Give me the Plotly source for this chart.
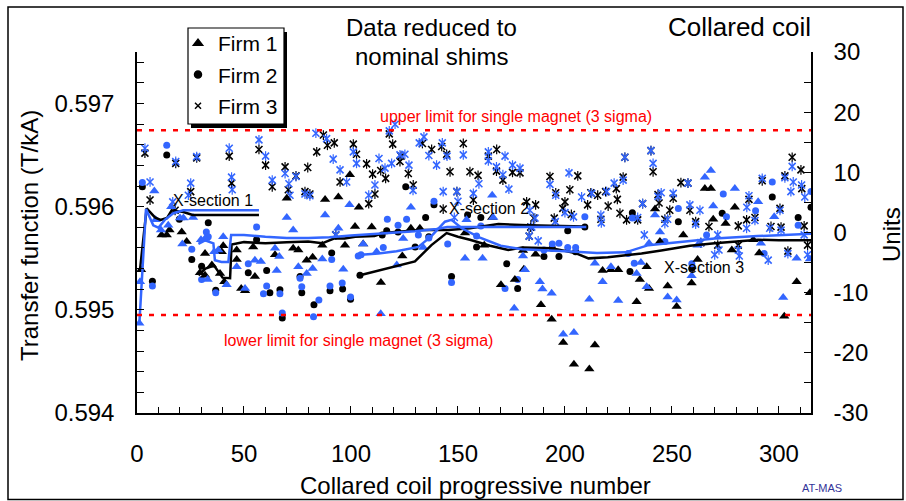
import plotly.graph_objects as go

# ---------------- data (x = collared coil number, y = units) ----------------
f1_black = [(1.9,-6.2),(11.5,-0.4),(13.9,-0.4),(15.2,0.4),(20.9,0.1),(23.2,-1.5),(29.4,-6.7),(31.8,-3.5),(31.8,-7.1),(35,-5.4),(38.8,-6.8),(39.6,-3.2),(40.3,-2.2),(40.8,-8.2),(46.6,-4.5),(46.6,-2.9),(48.7,-9.3),(50.5,-9.7),(54.3,-2.4),(55.1,-7.3),(64.5,-3.7),(70,5.7),(73,-2.6),(75.4,-2.9),(79.3,-4.6),(82.1,-4.1),(86.6,-2.1),(87.9,5.5),(94.1,5.9),(97.2,-2.1),(99.5,9.6),(101.9,1.0),(103.7,4.2),(105.7,-1.9),(109.7,0.9),(114,-8.3),(124,-3.9),(128,0.7),(132.2,0.7),(153.3,-0.1),(162.3,-2.1),(166,2.5),(170.1,-8.7),(176.6,-7.8),(180.4,-3.0),(180.8,-6.1),(186.3,-3.6),(188.8,-12.0),(193.8,-14.4),(199.2,-18.3),(204.2,-21.9),(211.4,-22.7),(214,-18.7),(217.6,-6.3),(221.5,-6.2),(224.9,-6.2),(233.5,-11.5),(235,-7.8),(238.2,-5.7),(239.3,-9.3),(242.1,3.9),(244.4,-1.5),(248,-8.9),(252.2,-12.3),(255.3,-0.4),(259.2,-8.4),(262,-4.5),(265.4,7.3),(268.2,7.3),(269.3,2.2),(275.1,1.5),(278,-2.9),(279.4,4.2),(288,-1.2),(290.8,-3.4),(302.5,-13.9),(308.3,-8.2),(314.5,-10.0)]
f1_blue = [(1.1,-15.1),(1.4,-8.2),(8.1,6.9),(8.7,2.1),(11.2,0.4),(14.6,1.2),(16,4.3),(20.1,2.4),(21.7,2.4),(21.2,-1.9),(26.2,2.5),(29.9,-1.2),(31.8,-1.0),(33,-7.8),(36.1,-3.2),(38,-2.9),(40.3,-0.7),(41.9,-8.7),(46.6,-5.7),(50.5,-9.3),(55.1,-4.6),(57.9,-4.8),(64.5,-2.6),(65.3,-6.3),(66.5,-4.0),(70,2.5),(73,0.4),(75.4,-5.7),(79.3,-6.8),(82.1,-6.0),(86.6,-4.4),(87.9,2.9),(94.1,0.7),(96.4,-6.1),(99.3,4.6),(105.7,-1.9),(112,-3.2),(113.9,-13.5),(121.4,-5.4),(124.4,-1.0),(128,4.2),(133.8,-2.5),(153.3,-4.3),(154,2.1),(161.5,-4.3),(166,6.2),(166.5,2.5),(176.3,-12.6),(180.4,-3.9),(181.3,-6.2),(188.3,-8.2),(189.5,-9.4),(193.8,-10.1),(199.2,-16.9),(204.2,-16.6),(211.4,-11.1),(214,-5.1),(217.6,-8.2),(221.5,-5.7),(224.9,-11.3),(233.5,-6.8),(235.5,-5.0),(238.2,-9.0),(239.3,-1.8),(242.1,2.9),(244.4,0.1),(248,-10.7),(252.2,-11.2),(259.2,-7.2),(262,-2.1),(265.4,9.2),(268.2,10.3),(269.3,4.4),(279.4,7.3),(290.3,5.1),(291.6,-1.8),(297.8,2.6),(302,-10.8),(308.3,-4.3),(314.5,-4.4)]
f2_black = [(2.5,7.6),(7.2,-8.1),(13.9,12.9),(19.8,2.2),(25.6,-4.5),(30.2,-5.6),(33.3,1.6),(36.8,-9.6),(52,-6.7),(55.9,-1.2),(60.6,-6.3),(62.1,-10.0),(66.8,-9.5),(67.9,-14.2),(76.2,-7.3),(77,-10.0),(82.7,-12.0),(90.2,-9.7),(91,-3.4),(96.1,-9.4),(99.8,-11.1),(104.2,-7.1),(114.6,-0.4),(116.7,0.3),(122,0.1),(125.6,7.6),(130,-2.4),(134.9,2.5),(136.4,-0.7),(138.8,4.6),(147,-7.3),(154.5,2.9),(158.7,-2.4),(160.7,2.5),(172.8,-5.2),(177.9,-9.3),(190.2,-4.0),(194.1,-2.6),(197.2,-4.0),(201.3,0.3),(205,-3.2),(209.3,0.9),(230.4,-6.5),(231.5,3.3),(253,1.8),(259.3,-6.0),(273.5,3.2),(296.9,5.9),(309,2.5),(315,4.2)]
f2_blue = [(2.5,8.3),(7.2,-8.9),(13.9,14.5),(25.6,-2.8),(30.2,-7.8),(32.4,0.1),(33.3,-0.7),(36.8,-10.0),(52,-5.2),(55.9,0.9),(59.1,-10.2),(60.6,-8.9),(66.8,-10.2),(67.9,-13.4),(76.2,-7.6),(77,-9.0),(82.5,-14.0),(85,-11.2),(90.2,-8.9),(91,-4.5),(95.9,-8.4),(99.8,-10.7),(103.4,-3.9),(104.7,-3.7),(115.1,-2.5),(117,2.2),(122,1.2),(126,2.2),(131.5,-0.4),(136.4,-0.9),(138.8,5.2),(145.2,-1.9),(147,-8.3),(158.7,-0.6),(160.7,1.1),(172,-9.3),(177.9,-7.8),(190.2,-2.9),(194.1,-1.9),(197.2,-1.8),(201.3,-2.5),(205,-2.5),(209.3,2.6),(229.6,-3.5),(231.5,2.4),(232.4,-5.1),(246.7,-1.5),(253,4.0),(259.3,-5.2),(266.2,-0.4),(274,6.4),(275.5,2.6),(289.1,3.6),(293.1,-3.5),(296.9,8.4),(309,1.2),(315,6.8)]
f3_black = [(3.7,13.2),(6.1,5.4),(17.8,3.7),(18.1,11.5),(25.1,6.8),(27.9,12.4),(43.1,12.7),(44.2,8.2),(57,13.8),(60.1,11.2),(63.2,7.6),(69.2,10.9),(70.7,7.1),(74.3,9.4),(78.5,6.8),(79.8,10.8),(80.8,6.4),(84,13.4),(87.1,16.2),(89,14.5),(92.2,14.9),(92.9,-0.4),(94.9,8.4),(101.1,14.7),(102.6,13.0),(107.3,11.4),(108.3,4.8),(110.1,9.7),(111.2,6.4),(113.9,10.3),(116.2,9.0),(117.9,16.4),(119.5,14.7),(122.9,11.8),(123.4,12.7),(126.8,9.8),(129.1,7.9),(133.4,14.8),(137.7,13.8),(142.4,14.3),(143.1,3.9),(144.7,13.0),(146.3,10.1),(149.5,6.8),(152.5,14.8),(155.6,10.1),(157.2,5.4),(159.4,9.5),(164.2,12.7),(168.1,13.8),(168,10.2),(171,8.7),(175.5,10.0),(179,9.9),(182.1,5.1),(183.3,-0.6),(184,0.9),(185.5,2.4),(186.3,4.6),(193,9.3),(195.7,6.6),(195,2.4),(200,5.1),(199,4.0),(202.3,7.1),(203,3.0),(206,9.4),(210.6,4.6),(212.1,6.6),(215.3,6.2),(216.8,2.2),(219,6.8),(220.2,4.4),(224,7.3),(224.5,5.5),(225.7,3.2),(227.2,9.2),(228,12.5),(228.8,2.1),(234,2.1),(236.3,4.8),(240.2,13.6),(241.2,10.1),(243.5,6.3),(244,4.9),(246.7,2.2),(249,3.7),(250.6,5.7),(254.2,8.3),(257.5,8.2),(258.4,3.7),(261.1,1.8),(263.5,-1.7),(267.3,1.0),(271.4,-2.1),(281,-2.1),(281,1.1),(284.9,2.1),(286,5.5),(288.8,2.5),(292.2,8.6),(296.3,1.0),(300.5,4.0),(301,0.9),(302.8,9.4),(304.2,-3.1),(306.2,12.5),(310.3,10.4),(310.7,7.3),(311.8,1.1),(313.4,-2.1)]
f3_blue = [(3.7,14.0),(6.1,8.4),(16.7,5.1),(18.1,11.8),(24,6.2),(25.1,8.2),(27.9,12.6),(43.1,14.0),(44.2,9.2),(44.5,7.1),(57,15.4),(60.1,12.7),(63.2,8.7),(69.2,9.8),(71,8.1),(71.5,6.2),(74.3,9.3),(78.5,6.4),(80.8,6.1),(83.6,16.5),(88.6,15.6),(91.7,12.2),(92.9,-0.4),(94.9,10.4),(98,8.4),(101.1,13.4),(102.6,11.5),(108.3,6.2),(111.2,7.9),(113.1,12.3),(115.9,10.7),(117.9,16.9),(119,11.5),(120.6,18.0),(122.9,12.9),(125.2,13.0),(127.1,11.2),(129,7.0),(131.9,14.9),(134.1,15.9),(136.4,12.8),(140,11.2),(142.7,14.9),(143.1,6.8),(144.9,12.7),(148.3,2.5),(149.5,6.8),(150,5.2),(152.5,12.9),(157.2,6.5),(159.8,8.1),(164.2,13.4),(164.2,11.9),(168,10.9),(171,9.6),(172,12.7),(173.8,7.2),(175.5,11.2),(179,10.7),(183.3,-0.6),(183.6,3.7),(184.5,0.9),(186,2.4),(187.5,-1.4),(193,8.0),(195.7,6.2),(195.5,1.8),(200,3.3),(201.9,9.9),(204,2.6),(207.8,5.9),(212.5,6.5),(216.8,2.9),(217,1.6),(219.5,6.8),(223,8.2),(227.2,8.7),(228,12.5),(234,2.5),(236.3,4.8),(237.1,-0.4),(240.2,13.6),(241.2,11.5),(243.5,6.0),(245,6.6),(246.7,1.5),(248,2.2),(250.6,6.5),(257.5,8.2),(258.4,4.6),(261.1,1.4),(263.1,3.7),(263.5,-1.7),(270,-3.7),(271.4,-0.4),(272,-2.9),(281,-2.9),(281.5,-3.9),(285,4.2),(284.9,0.7),(286,6.1),(288.8,2.0),(292.2,9.0),(295,-4.6),(295.7,0.7),(300.5,3.7),(301,0.4),(302.8,9.1),(304.2,-3.5),(305.6,6.8),(306.2,11.0),(306.7,8.4),(310.6,7.9),(311.8,-0.4),(312.1,5.9),(313.4,-3.7)]

# running averages per cross-section (black / blue)
s1_black_x = [1.4, 4.5, 8.4, 11, 14, 16.2, 21.7, 26, 57]
s1_black_y = [-6.2, 4.0, 2.5, 2.1, 2.4, 3.7, 3.4, 2.9, 2.9]
s1_blue_x = [1.1, 4.2, 7.6, 10, 13, 17, 21.6, 57]
s1_blue_y = [-15.1, 3.9, 1.2, 0.8, 2.1, 3.2, 3.7, 3.7]
s2_black_x = [28.7, 32, 36, 40, 43.5, 44.2, 50, 60, 70, 80, 86.6, 92, 97, 102, 111, 115, 125, 133, 145.6, 155.6, 168.9, 183, 209]
s2_black_y = [-7.1, -6.0, -5.5, -7.5, -7.6, -2.0, -1.6, -1.8, -1.6, -1.5, -1.8, -1.0, -1.0, -0.7, -0.6, -0.1, 0.2, 0.4, 0.4, 0.7, 1.4, 1.2, 1.0]
s2_blue_x = [28.7, 31.8, 35.7, 36.4, 39.5, 42.7, 44, 50, 60, 70, 80, 90, 100, 110, 120, 130, 140, 145, 150, 160, 180, 200, 210]
s2_blue_y = [-1.9, -1.3, -1.8, -4.6, -4.9, -4.9, -0.4, -0.4, -0.7, -0.9, -0.9, -0.8, -0.5, -0.3, -0.1, 0.2, 0.6, 0.9, 0.9, 0.9, 0.9, 0.9, 0.9]
s3_black_x = [104.2, 120.6, 129.9, 137.6, 144.7, 150, 155.6, 165, 173.5, 180, 193.8, 204.7, 211, 220, 235.8, 245, 258.4, 270, 279.4, 290.3, 300, 315]
s3_black_y = [-7.1, -5.7, -4.8, -2.1, -0.1, -0.7, -1.2, -2.2, -2.9, -2.5, -2.6, -3.4, -4.3, -4.1, -3.5, -3.0, -2.2, -1.8, -1.5, -1.2, -1.3, -1.3]
s3_blue_x = [104.7, 112.8, 121.3, 131.5, 137.6, 143.9, 147, 151.8, 160, 170, 180, 195, 205, 215, 228.3, 239, 258, 270, 290, 315]
s3_blue_y = [-3.7, -3.5, -3.1, -2.4, -0.6, 1.8, 2.1, 0.7, -0.8, -2.2, -2.8, -3.0, -3.2, -3.4, -3.3, -2.1, -1.5, -1.0, -0.6, -0.2]

upper_limit = 17.0
lower_limit = -13.7
left_ticks = [0.594, 0.595, 0.596, 0.597]
right_ticks = [-30, -20, -10, 0, 10, 20, 30]
right_labels = ["-30", "-20", "-10", "0", "10", "20", "30"]
x_ticks = [0, 50, 100, 150, 200, 250, 300]

BLACK = "#000000"
BLUE = "#3366FF"
RED = "#FF0000"
FONT = "Liberation Sans, Arial, sans-serif"

fig = go.Figure()

def scatter(pts, color, kind):
    xs = [p[0] for p in pts]
    ys = [p[1] for p in pts]
    if kind == "tri":
        fig.add_trace(go.Scatter(x=xs, y=ys, yaxis="y2", mode="markers", showlegend=False,
                                 marker=dict(symbol="triangle-up", size=9, color=color, line=dict(width=0))))
    elif kind == "dot":
        fig.add_trace(go.Scatter(x=xs, y=ys, yaxis="y2", mode="markers", showlegend=False,
                                 marker=dict(symbol="circle", size=7, color=color, line=dict(width=0))))
    else:
        fig.add_trace(go.Scatter(x=xs, y=ys, yaxis="y2", mode="markers", showlegend=False,
                                 marker=dict(symbol="x-thin-open", size=7, color=color, line=dict(width=1.6, color=color))))
        fig.add_trace(go.Scatter(x=xs, y=ys, yaxis="y2", mode="markers", showlegend=False,
                                 marker=dict(symbol="line-ns-open", size=7, color=color, line=dict(width=1.2, color=color))))

scatter(f3_black, BLACK, "x")
scatter(f3_blue, BLUE, "x")
scatter(f2_black, BLACK, "dot")
scatter(f2_blue, BLUE, "dot")
scatter(f1_black, BLACK, "tri")
scatter(f1_blue, BLUE, "tri")

for xs, ys, c in [(s1_black_x, s1_black_y, BLACK), (s1_blue_x, s1_blue_y, BLUE),
                  (s2_black_x, s2_black_y, BLACK), (s2_blue_x, s2_blue_y, BLUE),
                  (s3_black_x, s3_black_y, BLACK), (s3_blue_x, s3_blue_y, BLUE)]:
    fig.add_trace(go.Scatter(x=xs, y=ys, yaxis="y2", mode="lines", showlegend=False,
                             line=dict(color=c, width=2.5)))

# limit lines
for v in [upper_limit, lower_limit]:
    fig.add_trace(go.Scatter(x=[0, 315], y=[v, v], yaxis="y2", mode="lines", showlegend=False,
                             line=dict(color=RED, width=2.5, dash="5px,7px")))

# legend entries
for name, sym, size in [("Firm 1", "triangle-up", 8), ("Firm 2", "circle", 7), ("Firm 3", "x-thin-open", 6)]:
    fig.add_trace(go.Scatter(x=[None], y=[None], mode="markers", name=name, legendgroup=name,
                             marker=dict(symbol=sym, size=size, color=BLACK, line=dict(width=1.5, color=BLACK))))

L, R, T, B = 137, 95, 52, 88
W, H = 906, 501
pw, ph = W - L - R, H - T - B

def px(x):
    return (x - L) / pw

def py(y):
    return (H - B - y) / ph

ann = []
def text(t, x, y, size, color=BLACK, angle=0, xanchor="center"):
    ann.append(dict(text=t, x=px(x), y=py(y), xref="paper", yref="paper", showarrow=False,
                    font=dict(size=size, color=color, family=FONT), textangle=angle,
                    xanchor=xanchor, yanchor="middle"))

text("Data reduced to", 431, 28, 24)
text("nominal shims", 431, 57, 24)
text("Collared coil", 739, 27, 26)
text("Transfer function (T/kA)", 29, 236, 24, angle=-90)
text("Units", 891, 235, 24, angle=-90)
text("Collared coil progressive number", 475, 485, 24)
text("AT-MAS", 822, 488, 11, color="#333399")
text("upper limit for single magnet (3 sigma)", 516, 117, 16, color=RED)
text("lower limit for single magnet (3 sigma)", 358, 340, 16, color=RED)
text("X-section 1", 213, 200, 16)
text("X-section 2", 489, 208, 16)
text("X-section 3", 704, 267, 16)

shapes = [
    # outer frame
    dict(type="rect", xref="paper", yref="paper", x0=px(8), x1=px(903), y0=py(499.5), y1=py(7),
         line=dict(color=BLACK, width=1.5), layer="below"),
    # legend shadow and box
    dict(type="rect", xref="paper", yref="paper", x0=px(191), x1=px(287), y0=py(128), y1=py(32),
         line=dict(width=0), fillcolor=BLACK, layer="above"),
    dict(type="rect", xref="paper", yref="paper", x0=px(188), x1=px(284), y0=py(124), y1=py(28),
         line=dict(width=1.2, color=BLACK), fillcolor="white", layer="above"),
]

axis_common = dict(showgrid=False, zeroline=False, showline=True, linecolor=BLACK, linewidth=1.5,
                   ticks="inside", ticklen=7, tickwidth=1.2, tickcolor=BLACK,
                   tickfont=dict(size=24, family=FONT, color=BLACK))

fig.update_layout(
    width=W, height=H,
    margin=dict(l=L, r=R, t=T, b=B),
    paper_bgcolor="white", plot_bgcolor="white",
    font=dict(family=FONT, color=BLACK),
    xaxis=dict(range=[0, 315], tickvals=x_ticks, ticklabelstandoff=18,
               minor=dict(dtick=10, tick0=0, ticks="inside", ticklen=6, tickcolor=BLACK, tickwidth=1.2),
               **axis_common),
    yaxis=dict(range=[0.594, 0.5975], tickvals=left_ticks, tickformat=".3f", ticklabelstandoff=16,
               minor=dict(dtick=0.0002, tick0=0.594, ticks="inside", ticklen=7, tickcolor=BLACK, tickwidth=1.2),
               **axis_common),
    yaxis2=dict(range=[-30, 30], overlaying="y", side="right", tickvals=right_ticks, ticktext=right_labels,
                ticklabelstandoff=16,
                minor=dict(dtick=5, tick0=0, ticks="inside", ticklen=7, tickcolor=BLACK, tickwidth=1.2),
                **axis_common),
    legend=dict(x=px(178), y=py(23), xanchor="left", yanchor="top", bgcolor="rgba(0,0,0,0)",
                borderwidth=0, font=dict(size=21, family=FONT, color=BLACK),
                itemwidth=30, tracegroupgap=1, traceorder="grouped"),
    annotations=ann,
    shapes=shapes,
)

fig.write_html("out.html")
